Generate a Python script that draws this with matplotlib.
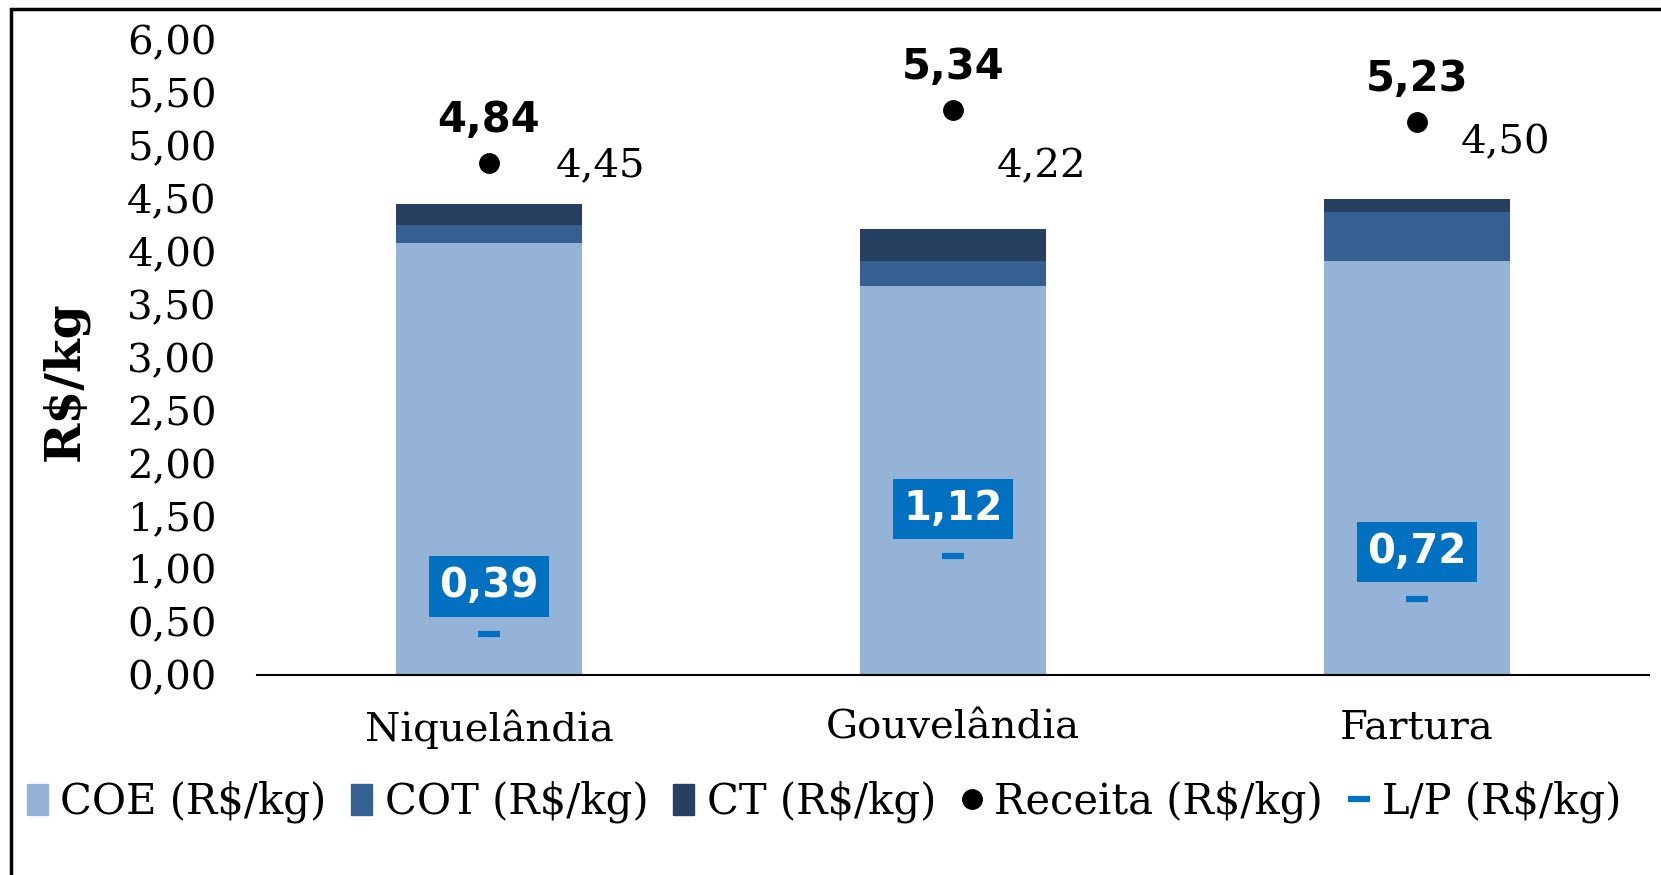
import matplotlib
matplotlib.use('Agg')
import matplotlib.pyplot as plt
from matplotlib.patches import Rectangle
from matplotlib.lines import Line2D
import numpy as np

cidades = ['Niquelândia', 'Gouvelândia', 'Fartura']
coe = [4.08, 3.68, 3.91]
cot = [0.17, 0.23, 0.47]
ct = [0.20, 0.31, 0.12]
total = [4.45, 4.22, 4.50]
receita = [4.84, 5.34, 5.23]
lp = [0.39, 1.12, 0.72]
yticks = [0, 0.5, 1, 1.5, 2, 2.5, 3, 3.5, 4, 4.5, 5, 5.5, 6]

c_coe = '#95B3D7'
c_cot = '#366092'
c_ct = '#254061'
c_lp = '#0070C0'

plt.rcParams['font.family'] = ['DejaVu Serif']

fig = plt.figure(figsize=(16.61, 8.75), dpi=100)
ax = fig.add_axes([0.1547, 0.2286, 0.8381, 0.7254])

x = np.arange(len(cidades))
w = 0.4
ax.bar(x, coe, w, color=c_coe, label='COE (R$/kg)')
ax.bar(x, cot, w, bottom=coe, color=c_cot, label='COT (R$/kg)')
ax.bar(x, ct, w, bottom=np.add(coe, cot), color=c_ct, label='CT (R$/kg)')

ax.plot(x, receita, 'o', color='black', ms=14, label='Receita (R$/kg)')
ax.plot(x, lp, '_', color=c_lp, ms=16, mew=4.5, label='L/P (R$/kg)')

def fmt(v):
    return f'{v:.2f}'.replace('.', ',')

for xi, v in zip(x, receita):
    ax.annotate(fmt(v), (xi, v), xytext=(0, 31), textcoords='offset points',
                ha='center', va='center', fontsize=30, fontweight='bold',
                family='DejaVu Sans')

# rótulos do total (posição ajustada à mão no original)
tot_dx = [0.24, 0.19, 0.19]
tot_dy = [0.36, 0.58, 0.53]
for xi, v, dx, dy in zip(x, total, tot_dx, tot_dy):
    ax.text(xi + dx, v + dy, fmt(v), ha='center', va='center', fontsize=29)

for xi, v in zip(x, lp):
    ax.annotate(fmt(v), (xi, v), xytext=(0, 34), textcoords='offset points',
                ha='center', va='center', fontsize=29, fontweight='bold',
                color='white', family='DejaVu Sans',
                bbox=dict(boxstyle='square,pad=0.25', fc=c_lp, ec='none'))

ax.set_xlim(-0.5, 2.5)
ax.set_ylim(0, 6)
ax.set_yticks(yticks)
ax.set_yticklabels([fmt(t) for t in yticks])
ax.set_xticks(x)
ax.set_xticklabels(cidades)
ax.tick_params(axis='y', length=0, labelsize=29, pad=29)
ax.tick_params(axis='x', length=0, labelsize=29, pad=25)
for s in ['top', 'right', 'left']:
    ax.spines[s].set_visible(False)
ax.spines['bottom'].set_linewidth(1.5)
ax.set_ylabel('R$/kg', fontsize=35, fontweight='bold')
ax.yaxis.set_label_coords(-0.121, 0.463)

handles = [
    Rectangle((0, 0), 1, 1, color=c_coe),
    Rectangle((0, 0), 1, 1, color=c_cot),
    Rectangle((0, 0), 1, 1, color=c_ct),
    Line2D([], [], ls='none', marker='o', color='black', ms=14),
    Line2D([], [], ls='none', marker='_', color=c_lp, ms=16, mew=4.5),
]
labels = ['COE (R$/kg)', 'COT (R$/kg)', 'CT (R$/kg)', 'Receita (R$/kg)', 'L/P (R$/kg)']
fig.legend(handles, labels, loc='center', bbox_to_anchor=(0.496, 0.0834), ncol=5,
           frameon=False, fontsize=30, handlelength=0.5, handleheight=0.75,
           handletextpad=0.3, columnspacing=0.6)

fig.add_artist(Rectangle((11 / 1661, -0.5), 2, 0.5 + 1 - 9 / 875,
                         transform=fig.transFigure, fill=False, ec='black', lw=2.5))

fig.savefig('out.png', dpi=100)
